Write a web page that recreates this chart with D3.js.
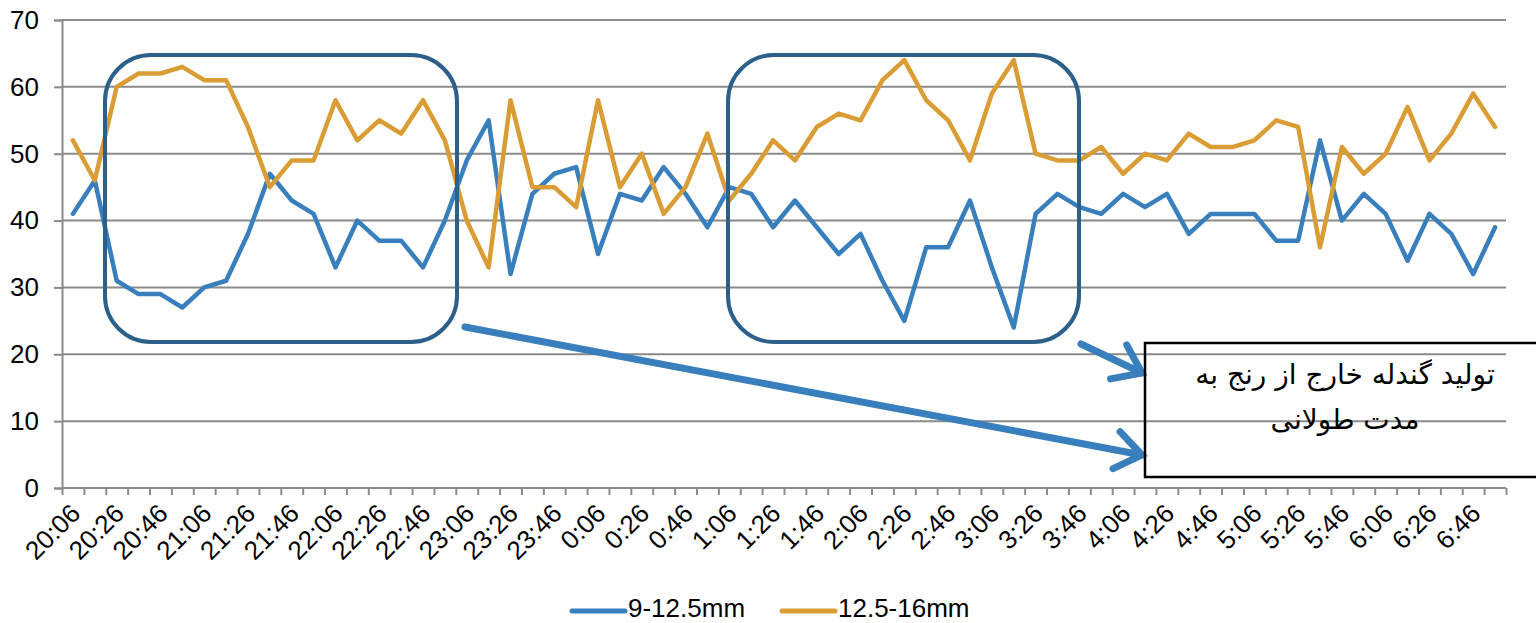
<!DOCTYPE html>
<html>
<head>
<meta charset="utf-8">
<script src="https://cdn.jsdelivr.net/npm/d3@7/dist/d3.min.js"></script>
<style>
  html, body { margin: 0; padding: 0; background: #fff; }
  svg { display: block; }
</style>
</head>
<body>
<svg id="chart" width="1536" height="623"></svg>
<script>
// ---------- DATA ----------
const categories = [
  "20:06","20:16","20:26","20:36","20:46","20:56","21:06","21:16","21:26","21:36",
  "21:46","21:56","22:06","22:16","22:26","22:36","22:46","22:56","23:06","23:16",
  "23:26","23:36","23:46","23:56","0:06","0:16","0:26","0:36","0:46","0:56",
  "1:06","1:16","1:26","1:36","1:46","1:56","2:06","2:16","2:26","2:36",
  "2:46","2:56","3:06","3:16","3:26","3:36","3:46","3:56","4:06","4:16",
  "4:26","4:36","4:46","4:56","5:06","5:16","5:26","5:36","5:46","5:56",
  "6:06","6:16","6:26","6:36","6:46","6:56"
];
const series1Name = "9-12.5mm";
const series1 = [
  41,46,31,29,29,27,30,31,38,47,
  43,41,33,40,37,37,33,40,49,55,
  32,44,47,48,35,44,43,48,44,39,
  45,44,39,43,39,35,38,31,25,36,
  36,43,33,24,41,44,42,41,44,42,
  44,38,41,41,41,37,37,52,40,44,
  41,34,41,38,32,39
];
const series2Name = "12.5-16mm";
const series2 = [
  52,46,60,62,62,63,61,61,54,45,
  49,49,58,52,55,53,58,52,40,33,
  58,45,45,42,58,45,50,41,45,53,
  43,47,52,49,54,56,55,61,64,58,
  55,49,59,64,50,49,49,51,47,50,
  49,53,51,51,52,55,54,36,51,47,
  50,57,49,53,59,54
];
const yTicks = [0,10,20,30,40,50,60,70];
const noteLines = ["تولید گندله خارج از رنج به", "مدت طولانی"];

// ---------- STYLE / LAYOUT ----------
const blue = "#3a7fbd", orange = "#da9d35", boxBlue = "#2c5f8a", gridCol = "#8a8a8a";
const latinFont = "Liberation Sans, Arial, sans-serif";
const fontSize = 26;
const plot = { left: 62, right: 1506, top: 20, bottom: 488 };
const svg = d3.select("#chart");

const x = d3.scaleBand().domain(categories).range([plot.left, plot.right]).padding(0);
const xIdx = d3.scaleLinear().domain([0, categories.length]).range([plot.left, plot.right]);
const y = d3.scaleLinear().domain([0, 70]).range([plot.bottom, plot.top]);
const cx = d => x(d) + x.bandwidth() / 2;

// gridlines
svg.append("g").selectAll("line").data(yTicks.filter(t => t > 0)).join("line")
  .attr("x1", plot.left).attr("x2", plot.right)
  .attr("y1", d => y(d)).attr("y2", d => y(d))
  .attr("stroke", gridCol).attr("stroke-width", 2);

// y axis
const yAxis = svg.append("g").attr("transform", `translate(${plot.left},0)`)
  .call(d3.axisLeft(y).tickValues(yTicks).tickSize(8).tickPadding(15));
yAxis.select(".domain").attr("stroke", gridCol).attr("stroke-width", 2);
yAxis.selectAll(".tick line").attr("stroke", gridCol).attr("stroke-width", 2);
yAxis.selectAll("text").attr("font-family", latinFont)
  .attr("font-size", fontSize).attr("fill", "#000");

// x axis tick marks at category boundaries
const xTickAxis = svg.append("g").attr("transform", `translate(0,${plot.bottom})`)
  .call(d3.axisBottom(xIdx).tickValues(d3.range(categories.length + 1)).tickSize(7).tickFormat(""));
xTickAxis.select(".domain").attr("stroke", gridCol).attr("stroke-width", 2).attr("d", `M${plot.left},0H${plot.right}`);
xTickAxis.selectAll(".tick line").attr("stroke", gridCol).attr("stroke-width", 2);

// x labels (every other category)
const xLabAxis = svg.append("g").attr("transform", `translate(0,${plot.bottom})`)
  .call(d3.axisBottom(x).tickValues(categories.filter((d, i) => i % 2 === 0)).tickSize(0));
xLabAxis.select(".domain").remove();
xLabAxis.selectAll("text")
  .attr("font-family", latinFont).attr("font-size", fontSize).attr("fill", "#000")
  .attr("text-anchor", "end").attr("dy", "0")
  .attr("transform", "translate(7,25) rotate(-45)");

// lines
const line = d3.line().x((d, i) => cx(categories[i])).y(d => y(d));
svg.append("path").datum(series1).attr("d", line).attr("fill", "none")
  .attr("stroke", blue).attr("stroke-width", 4.5).attr("stroke-linejoin", "round").attr("stroke-linecap", "round");
svg.append("path").datum(series2).attr("d", line).attr("fill", "none")
  .attr("stroke", orange).attr("stroke-width", 4.5).attr("stroke-linejoin", "round").attr("stroke-linecap", "round");

// annotations: rounded boxes
const boxes = [
  { x0: 105, x1: 457, y0: 55, y1: 342 },
  { x0: 728, x1: 1079, y0: 55, y1: 342 }
];
svg.append("g").selectAll("rect").data(boxes).join("rect")
  .attr("x", d => d.x0).attr("y", d => d.y0)
  .attr("width", d => d.x1 - d.x0).attr("height", d => d.y1 - d.y0)
  .attr("rx", 46).attr("ry", 46)
  .attr("fill", "none").attr("stroke", boxBlue).attr("stroke-width", 4);

// arrows
const arrows = [
  { x0: 465, y0: 327, x1: 1142, y1: 455 },
  { x0: 1081, y0: 344, x1: 1142, y1: 373 }
];
function arrowPath(a) {
  const dx = a.x1 - a.x0, dy = a.y1 - a.y0, L = Math.hypot(dx, dy);
  const ux = -dx / L, uy = -dy / L, th = 36 * Math.PI / 180, wl = 32;
  const w1 = [a.x1 + wl * (ux * Math.cos(th) - uy * Math.sin(th)), a.y1 + wl * (ux * Math.sin(th) + uy * Math.cos(th))];
  const w2 = [a.x1 + wl * (ux * Math.cos(th) + uy * Math.sin(th)), a.y1 + wl * (-ux * Math.sin(th) + uy * Math.cos(th))];
  return `M${a.x0},${a.y0}L${a.x1},${a.y1}M${w1[0]},${w1[1]}L${a.x1},${a.y1}L${w2[0]},${w2[1]}`;
}
svg.append("g").selectAll("path").data(arrows).join("path")
  .attr("d", arrowPath).attr("fill", "none").attr("stroke", blue)
  .attr("stroke-width", 7).attr("stroke-linecap", "round").attr("stroke-linejoin", "miter");

// note box
svg.append("rect").attr("x", 1145).attr("y", 343).attr("width", 420).attr("height", 134)
  .attr("fill", "none").attr("stroke", "#000").attr("stroke-width", 2.5);
svg.append("g").selectAll("text").data(noteLines).join("text")
  .attr("x", 1345).attr("y", (d, i) => 384 + i * 45)
  .attr("text-anchor", "middle").attr("direction", "rtl")
  .attr("font-family", "DejaVu Sans, sans-serif").attr("font-size", 28).attr("fill", "#000")
  .text(d => d);

// legend
const legend = [{ name: series1Name, color: blue, x: 572 }, { name: series2Name, color: orange, x: 782 }];
const lg = svg.append("g").selectAll("g").data(legend).join("g");
lg.append("line").attr("x1", d => d.x).attr("x2", d => d.x + 53).attr("y1", 611).attr("y2", 611)
  .attr("stroke", d => d.color).attr("stroke-width", 5).attr("stroke-linecap", "round");
lg.append("text").attr("x", d => d.x + 56).attr("y", 617)
  .attr("font-family", latinFont).attr("font-size", fontSize).attr("fill", "#000")
  .text(d => d.name);
</script>
</body>
</html>
